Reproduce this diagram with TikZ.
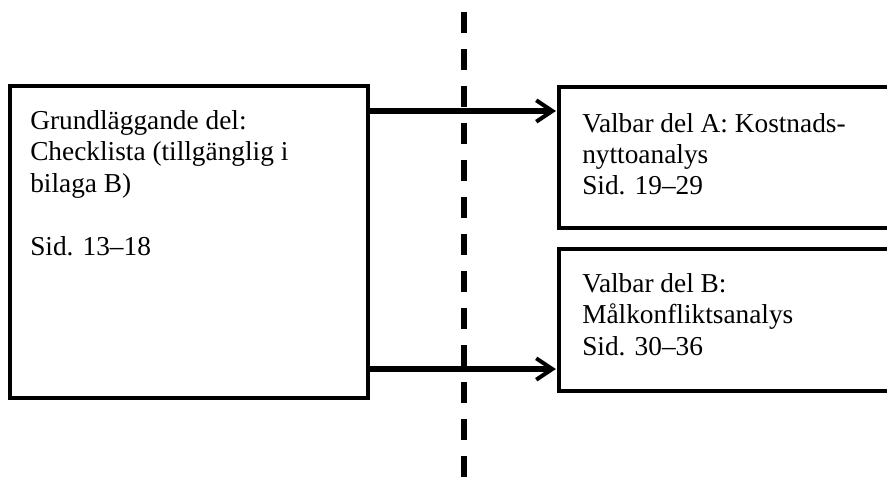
\documentclass[tikz,border=0pt]{standalone}
\usepackage{fontspec}
\setmainfont{Liberation Serif}
\usetikzlibrary{arrows.meta}
\tikzset{
  box/.style={draw, line width=2.3pt, inner sep=0pt},
  txt/.style={inner sep=0pt, anchor=base west, align=left, font=\fontsize{20.5pt}{23.6pt}\selectfont},
  arr/.style={line width=3.8pt, -{Straight Barb[length=12pt,width=16pt,line width=3pt]}, shorten >=1.2pt},
  divider/.style={line width=3.8pt, dash pattern=on 15.75pt off 12pt}
}
\begin{document}
\begin{tikzpicture}[x=0.75pt, y=-0.75pt]
\clip (0,0) rectangle (887,477);
\fill[white] (0,0) rectangle (887,477);
% boxes
\node[box, minimum width=268.5pt, minimum height=234pt] (L) at (189,242) {};
\node[box, minimum width=255.75pt, minimum height=105.75pt] (A) at (729.5,157.5) {};
\node[box, minimum width=255.75pt, minimum height=106.5pt] (B) at (729.5,320) {};
% divider
\coordinate (dtop) at (464,12);
\coordinate (dbot) at (464,490);
\draw[divider] (dtop) -- (dbot);
% arrows
\coordinate (y1) at (0,111);
\coordinate (y2) at (0,369);
\draw[arr] (L.east |- y1) -- (A.west |- y1);
\draw[arr] (L.east |- y2) -- (B.west |- y2);
% texts (anchored at baseline of last line)
\node[txt] (tL) at (30,255) {Grundläggande del:\\Checklista (tillgänglig i\\bilaga B)\\[23.6pt]Sid. 13–18};
\node[txt] (tA) at (582,195) {Valbar del A: Kostnads-\\nyttoanalys\\Sid. 19–29};
\node[txt] (tB) at (582,355) {Valbar del B:\\Målkonfliktsanalys\\Sid. 30–36};
\end{tikzpicture}
\end{document}
